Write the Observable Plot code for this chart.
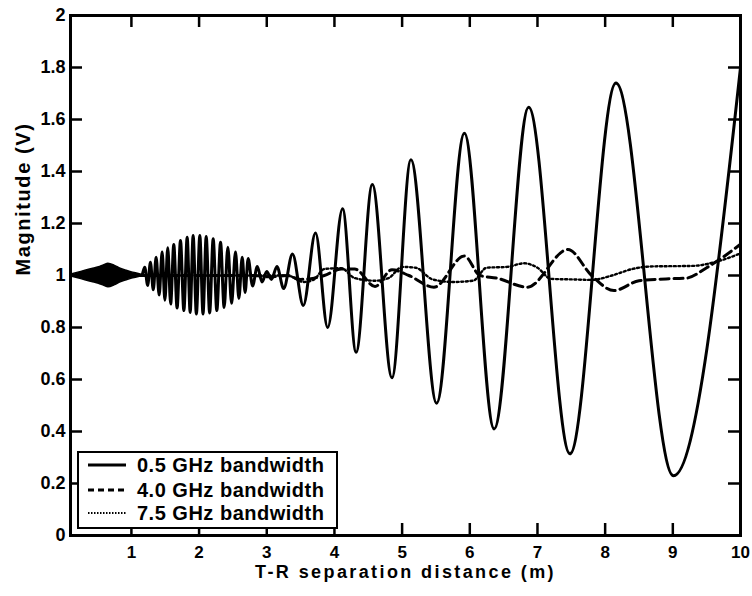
<!DOCTYPE html>
<html><head><meta charset="utf-8">
<script src="https://cdn.jsdelivr.net/npm/d3@7"></script>
<script src="https://cdn.jsdelivr.net/npm/@observablehq/plot@0.6"></script>
<style>
body{margin:0;background:#fff;}
#wrap{position:relative;width:752px;height:596px;}
#legend{position:absolute;left:77px;top:451px;width:257px;height:74px;border:2px solid #000;background:#fff;font:bold 20px "Liberation Sans",Arial,sans-serif;letter-spacing:0.5px;color:#000;}
#legend .row{position:absolute;left:9px;height:24px;display:flex;align-items:center;white-space:nowrap;}
#legend svg{margin-right:11px;}
</style></head>
<body><div id="wrap"></div>
<script>
// ---- data ----
const xTicks = [1, 2, 3, 4, 5, 6, 7, 8, 9, 10];
const xTickLabels = ["1", "2", "3", "4", "5", "6", "7", "8", "9", "10"];
const yTicks = [0, 0.2, 0.4, 0.6, 0.8, 1, 1.2, 1.4, 1.6, 1.8, 2];
const yTickLabels = ["0", "0.2", "0.4", "0.6", "0.8", "1", "1.2", "1.4", "1.6", "1.8", "2"];
const seriesNames = ["0.5 GHz bandwidth", "4.0 GHz bandwidth", "7.5 GHz bandwidth"];
const xLabel = "T-R separation distance (m)";
const yLabel = "Magnitude (V)";

// 0.5 GHz: rapid oscillation envelope near the transmitter (0.1–1.15 m)
const blobX     = [0.1,   0.2,   0.32,  0.42,  0.52,  0.6,   0.66,  0.75,  0.84,  0.93,  1.01,  1.08,  1.15];
const blobUpper = [1.003, 1.010, 1.018, 1.025, 1.032, 1.040, 1.045, 1.038, 1.026, 1.018, 1.012, 1.008, 1.003];
const blobLower = [0.997, 0.990, 0.982, 0.975, 0.968, 0.960, 0.955, 0.962, 0.974, 0.982, 0.988, 0.992, 0.997];

// 0.5 GHz: turning points of the resolved oscillation
const solidX = [0.1, 1.15,
  1.197, 1.24, 1.281, 1.323, 1.365, 1.41, 1.454, 1.495, 1.537, 1.58, 1.626, 1.675,
  1.725, 1.775, 1.824, 1.868, 1.912, 1.96, 2.011, 2.058, 2.105, 2.156, 2.208, 2.262,
  2.317, 2.37, 2.425, 2.48, 2.538, 2.588, 2.637, 2.68, 2.725, 2.79, 2.86, 2.93,
  3.0, 3.07, 3.15, 3.25, 3.38, 3.54, 3.72, 3.90, 4.12, 4.32, 4.56, 4.85,
  5.13, 5.51, 5.92, 6.36, 6.87, 7.48, 8.16, 9.01, 10.0];
const solidY = [1.0, 1.0,
  1.032, 0.962, 1.051, 0.945, 1.070, 0.925, 1.090, 0.905, 1.107, 0.890, 1.119, 0.875,
  1.135, 0.865, 1.147, 0.858, 1.154, 0.852, 1.154, 0.852, 1.150, 0.856, 1.141, 0.865,
  1.128, 0.877, 1.109, 0.893, 1.090, 0.912, 1.070, 0.935, 1.065, 0.960, 1.035, 0.975,
  1.015, 0.985, 1.035, 0.950, 1.083, 0.885, 1.163, 0.800, 1.257, 0.705, 1.350, 0.607,
  1.445, 0.509, 1.547, 0.410, 1.647, 0.314, 1.740, 0.230, 1.800];

// 4.0 GHz
const dashedX = [0.1, 1.0, 2.0, 2.8, 3.05, 3.3, 3.5, 3.7, 3.85, 4.1, 4.3, 4.6, 4.85, 5.1, 5.47, 5.92, 6.15, 6.4, 6.85, 7.45, 7.8, 8.13, 8.5, 8.9, 9.2, 9.5, 10.0];
const dashedY = [1.0, 1.0, 1.0, 1.0, 0.995, 1.0, 0.985, 0.99, 1.0, 1.025, 1.025, 0.958, 1.022, 1.0, 0.955, 1.075, 1.0, 0.99, 0.955, 1.10, 1.0, 0.942, 0.98, 0.987, 0.99, 1.03, 1.12];

// 7.5 GHz
const dottedX = [0.1, 1.0, 2.0, 2.8, 3.3, 3.55, 3.7, 3.85, 4.1, 4.3, 4.6, 4.8, 5.0, 5.2, 5.45, 5.75, 6.05, 6.25, 6.55, 6.8, 7.0, 7.2, 7.5, 7.8, 8.1, 8.4, 8.7, 9.3, 9.6, 10.0];
const dottedY = [1.0, 1.0, 1.0, 1.0, 1.0, 0.975, 0.985, 1.025, 1.028, 0.99, 0.98, 0.99, 1.033, 1.03, 0.985, 0.975, 0.98, 1.03, 1.033, 1.047, 1.03, 0.987, 0.985, 0.983, 1.0, 1.025, 1.035, 1.037, 1.05, 1.085];

// ---- tables ----
const blob = blobX.map((x, i) => ({x, hi: blobUpper[i], lo: blobLower[i]}));
const solid = solidX.map((x, i) => ({x, y: solidY[i]}));
const dashed = dashedX.map((x, i) => ({x, y: dashedY[i]}));
const dotted = dottedX.map((x, i) => ({x, y: dottedY[i]}));

const styles = [
  {strokeWidth: 3, dash: null, legendDash: null},
  {strokeWidth: 3, dash: "9,5", legendDash: "6,4"},
  {strokeWidth: 2.4, dash: "2,2.6", legendDash: "1.5,1.5"}
];

const chart = Plot.plot({
  width: 752, height: 596,
  marginLeft: 70, marginRight: 12, marginTop: 15, marginBottom: 61,
  x: {domain: [0.1, 10]},
  y: {domain: [0, 2]},
  style: {fontFamily: '"Liberation Sans", Arial, sans-serif', fontWeight: "bold", fontSize: "18px", color: "black", background: "white"},
  marks: [
    Plot.areaY(blob, {x: "x", y1: "lo", y2: "hi", fill: "black", stroke: "black", strokeWidth: 1.5, curve: "monotone-x"}),
    Plot.line(dotted, {x: "x", y: "y", stroke: "black", strokeWidth: styles[2].strokeWidth, strokeDasharray: styles[2].dash, curve: "monotone-x"}),
    Plot.line(dashed, {x: "x", y: "y", stroke: "black", strokeWidth: styles[1].strokeWidth, strokeDasharray: styles[1].dash, curve: "monotone-x"}),
    Plot.line(solid, {x: "x", y: "y", stroke: "black", strokeWidth: styles[0].strokeWidth, curve: "monotone-x"}),
    Plot.tickX(xTicks, {x: d => d, insetTop: 508, stroke: "black", strokeWidth: 2.5}),
    Plot.tickX(xTicks, {x: d => d, insetBottom: 508, stroke: "black", strokeWidth: 2.5}),
    Plot.tickY(yTicks, {y: d => d, insetRight: 658, stroke: "black", strokeWidth: 2.5}),
    Plot.tickY(yTicks, {y: d => d, insetLeft: 658, stroke: "black", strokeWidth: 2.5}),
    Plot.frame({stroke: "black", strokeWidth: 3}),
    Plot.axisX({ticks: xTicks, tickSize: 0, tickPadding: 10, tickFormat: d => xTickLabels[xTicks.indexOf(d)], label: null, fontSize: 17, fontWeight: "bold"}),
    Plot.axisY({ticks: yTicks, tickSize: 0, tickPadding: 5, tickFormat: d => yTickLabels[yTicks.indexOf(d)], label: null, fontSize: 18, fontWeight: "bold"}),
    Plot.text([xLabel], {text: d => d, frameAnchor: "bottom", dy: 42, fontSize: 18, fontWeight: "bold", fill: "black"}),
    Plot.text([yLabel], {text: d => d, frameAnchor: "left", dx: -47, rotate: -90, fontSize: 20, fontWeight: "bold", fill: "black"})
  ]
});

d3.select(chart).selectAll("text").filter(function () {
  return this.textContent === xLabel;
}).style("letter-spacing", "2.4px");
d3.select(chart).selectAll("text").filter(function () {
  return this.textContent === yLabel;
}).style("letter-spacing", "1.6px");

const wrap = document.getElementById("wrap");
wrap.appendChild(chart);

// legend
const legend = document.createElement("div");
legend.id = "legend";
const centers = [12, 37, 60];
seriesNames.forEach((name, i) => {
  const row = document.createElement("div");
  row.className = "row";
  row.style.top = (centers[i] - 12) + "px";
  const s = styles[i];
  row.innerHTML = `<svg width="38" height="10"><line x1="0" y1="5" x2="38" y2="5" stroke="black" stroke-width="${i === 2 ? 2 : s.strokeWidth}" ${s.legendDash ? `stroke-dasharray="${s.legendDash}"` : ""}/></svg><span>${name}</span>`;
  legend.appendChild(row);
});
wrap.appendChild(legend);
</script></body></html>
